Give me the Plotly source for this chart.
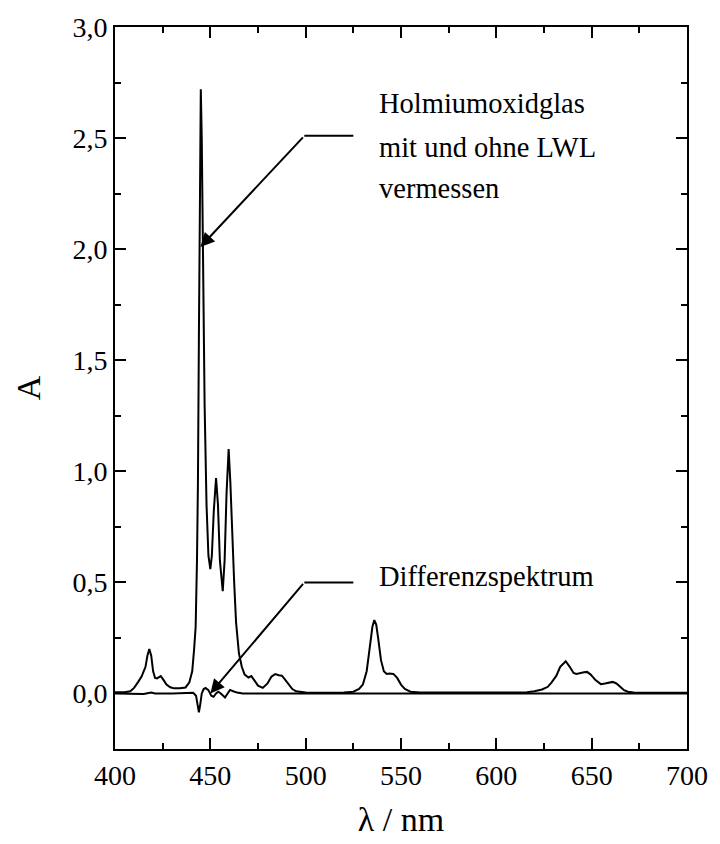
import plotly.graph_objects as go

# Holmium oxide glass spectrum (measured with and without fibre) - wavelength nm, absorbance
wl_main = [400, 405, 408, 410, 412, 414, 416, 417, 418, 419, 420, 421, 422, 424, 425.5, 427, 429, 431, 434, 437,
           439, 440.5, 441.5, 442.3, 443, 443.5, 444, 444.5, 445, 445.5, 446, 447, 448, 449, 450, 450.8, 451.8,
           453, 454, 455, 456.5, 457.5, 458.5, 459.6, 460.5, 461.5, 462.5, 463.5, 465, 466.5, 468, 470, 471.5,
           473, 475, 477.5, 480, 482, 484, 486, 487.5, 489, 491, 493, 495, 500, 510, 520, 525, 528, 530, 532,
           533.5, 535, 536, 537, 538, 539.5, 541, 542.5, 544, 546, 548, 550, 552, 555, 560, 580, 600, 610, 616,
           620, 624, 627, 629, 631.5, 633.5, 636.4, 638.5, 640.5, 642, 644, 646, 647.6, 649.5, 652, 654.8, 657,
           659, 661, 663, 665, 667, 669, 672, 680, 700]
a_main = [0.005, 0.006, 0.01, 0.025, 0.05, 0.077, 0.12, 0.17, 0.20, 0.17, 0.10, 0.07, 0.068, 0.078, 0.06, 0.04,
          0.028, 0.023, 0.023, 0.027, 0.05, 0.10, 0.20, 0.30, 0.6, 0.95, 1.6, 2.3, 2.72, 2.5, 2.0, 1.3, 0.85,
          0.62, 0.56, 0.62, 0.82, 0.97, 0.85, 0.6, 0.46, 0.6, 0.9, 1.10, 0.95, 0.7, 0.5, 0.32, 0.18, 0.12, 0.085,
          0.072, 0.078, 0.06, 0.035, 0.025, 0.045, 0.075, 0.087, 0.082, 0.08, 0.065, 0.04, 0.02, 0.01, 0.004,
          0.003, 0.004, 0.008, 0.02, 0.04, 0.1, 0.2, 0.3, 0.33, 0.31, 0.25, 0.15, 0.1, 0.088, 0.09, 0.088, 0.07,
          0.04, 0.02, 0.008, 0.004, 0.003, 0.003, 0.004, 0.006, 0.01, 0.018, 0.03, 0.05, 0.08, 0.12, 0.145,
          0.12, 0.092, 0.088, 0.09, 0.095, 0.097, 0.085, 0.06, 0.042, 0.045, 0.05, 0.052, 0.045, 0.03, 0.015,
          0.008, 0.004, 0.003, 0.003]

# Difference spectrum
wl_diff = [400, 410, 415, 419, 421, 430, 438, 441, 442.5, 443.5, 444, 444.7, 445.5, 446.5, 447.5, 449, 450.5,
           451.7, 453, 454.2, 455.5, 457.7, 459, 460.3, 462, 464, 467, 480, 536, 540, 700]
a_diff = [0.0, 0.0, -0.002, 0.004, 0.0, 0.0, 0.0, 0.003, -0.01, -0.06, -0.085, -0.05, 0.0, 0.02, 0.025, 0.015,
          -0.01, -0.015, 0.0, 0.008, 0.0, -0.018, 0.0, 0.016, 0.01, 0.004, 0.0, 0.0, 0.002, 0.0, 0.0]

x_ticks = [400, 450, 500, 550, 600, 650, 700]
y_ticks = [0.0, 0.5, 1.0, 1.5, 2.0, 2.5, 3.0]

label1 = ["Holmiumoxidglas", "mit und ohne LWL", "vermessen"]
label2 = "Differenzspektrum"

FONT = "Liberation Serif, Times New Roman, serif"

fig = go.Figure()
fig.add_trace(go.Scatter(x=wl_main, y=a_main, mode="lines", line=dict(color="black", width=2), showlegend=False))
fig.add_trace(go.Scatter(x=wl_diff, y=a_diff, mode="lines", line=dict(color="black", width=2), showlegend=False))

# leader lines (horizontal parts)
fig.add_trace(go.Scatter(x=[499.3, 525], y=[2.51, 2.51], mode="lines", line=dict(color="black", width=2),
                         showlegend=False, hoverinfo="skip"))
fig.add_trace(go.Scatter(x=[499.3, 525], y=[0.5, 0.5], mode="lines", line=dict(color="black", width=2),
                         showlegend=False, hoverinfo="skip"))

annotations = [
    dict(x=444.8, y=2.01, ax=499.3, ay=2.51, xref="x", yref="y", axref="x", ayref="y",
         showarrow=True, arrowhead=2, arrowsize=1.4, arrowwidth=2, arrowcolor="black", text=""),
    dict(x=450, y=0.0, ax=499.3, ay=0.5, xref="x", yref="y", axref="x", ayref="y",
         showarrow=True, arrowhead=2, arrowsize=1.4, arrowwidth=2, arrowcolor="black", text=""),
]
for txt, yy in zip(label1, [2.654, 2.459, 2.272]):
    annotations.append(dict(x=537.2, y=yy, xref="x", yref="y", text=txt, showarrow=False,
                            xanchor="left", yanchor="middle", font=dict(family=FONT, size=28.5, color="black")))
annotations.append(dict(x=537.2, y=0.528, xref="x", yref="y", text=label2, showarrow=False,
                        xanchor="left", yanchor="middle", font=dict(family=FONT, size=28.5, color="black")))

axis_common = dict(showline=True, linecolor="black", linewidth=2, mirror="ticks", ticks="inside",
                   tickcolor="black", tickwidth=2, ticklen=11, showgrid=False, zeroline=False,
                   tickfont=dict(family=FONT, size=28, color="black"))

fig.update_layout(
    width=720, height=844,
    margin=dict(l=115, r=25, t=25, b=94),
    paper_bgcolor="white", plot_bgcolor="white",
    separators=",.",
    annotations=annotations,
    xaxis=dict(range=[400, 700], tickvals=x_ticks,
               minor=dict(dtick=25, ticks="inside", ticklen=6, tickwidth=2, tickcolor="black"),
               title=dict(text="λ / nm", font=dict(family=FONT, size=34, color="black"), standoff=18),
               **axis_common),
    yaxis=dict(range=[-0.25, 3.0], tickvals=y_ticks, tickformat=".1f",
               minor=dict(dtick=0.25, ticks="inside", ticklen=6, tickwidth=2, tickcolor="black"),
               title=dict(text="A", font=dict(family=FONT, size=34, color="black"), standoff=22),
               **axis_common),
)

fig.write_html("out.html")
